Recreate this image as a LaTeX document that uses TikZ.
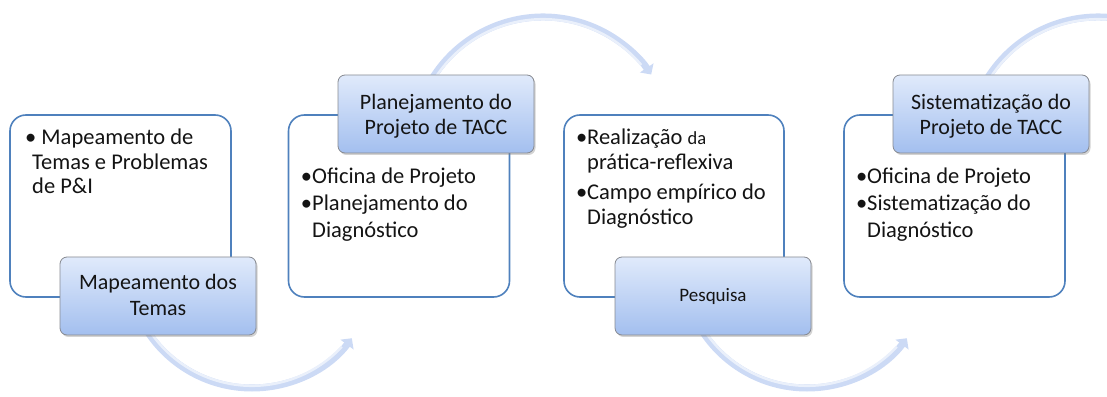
\documentclass[tikz,border=0pt]{standalone}
\usepackage{fontspec}
\setmainfont{Carlito}
\usetikzlibrary{arrows.meta,shadows}
\definecolor{boxblue}{RGB}{79,129,189}
\definecolor{txt}{RGB}{20,20,20}
\definecolor{tagtop}{RGB}{224,234,251}
\definecolor{tagbot}{RGB}{163,191,239}
\definecolor{tagedge}{RGB}{135,138,145}
\definecolor{band}{RGB}{204,218,245}
\definecolor{bandlight}{RGB}{234,240,251}
\tikzset{
  bigbox/.style={draw=boxblue, line width=1.6pt, fill=white, rounded corners=16pt,
    minimum width=221pt, minimum height=182pt, inner sep=0pt},
  tagbox/.style={draw=tagedge, line width=0.8pt, rounded corners=7pt, top color=tagtop, bottom color=tagbot,
    minimum width=196pt, minimum height=78pt, inner sep=0pt,
    drop shadow={opacity=0.35, shadow xshift=1.5pt, shadow yshift=-2pt}},
  flowarc/.style={draw=band, line width=7pt, -{Triangle[width=16pt,length=8pt]}},
  flowarcplain/.style={draw=band, line width=7pt},
  flowshine/.style={draw=bandlight, line width=2.5pt},
  bodytext/.style={text=txt, inner sep=0pt, anchor=base west, font=\fontsize{22.5}{27}\selectfont},
  tagtext/.style={text=txt, inner sep=0pt, anchor=base, font=\fontsize{22}{26}\selectfont},
  smalltag/.style={text=txt, inner sep=0pt, anchor=base, font=\fontsize{19}{23}\selectfont},
}
\begin{document}
\begin{tikzpicture}[x=1pt,y=1pt]
\useasboundingbox (0,0) rectangle (1107,396);
% connectors (arcs)
\begin{scope}
\clip (0,0) rectangle (1107,396);
\coordinate (cA) at (252,133);
\coordinate (cB) at (543,248.5);
\coordinate (cC) at (807,133);
\coordinate (cD) at (1098,248.5);
\draw[flowarc] (cA) ++(210:125) arc[start angle=210, end angle=323, radius=125];
\draw[flowshine] (cA) ++(212:122.8) arc[start angle=212, end angle=317, radius=122.8];
\draw[flowarc] (cB) ++(150:130.5) arc[start angle=150, end angle=34, radius=130.5];
\draw[flowshine] (cB) ++(148:128.3) arc[start angle=148, end angle=40, radius=128.3];
\draw[flowarc] (cC) ++(210:125) arc[start angle=210, end angle=323, radius=125];
\draw[flowshine] (cC) ++(212:122.8) arc[start angle=212, end angle=317, radius=122.8];
\draw[flowarcplain] (cD) ++(150:130.5) arc[start angle=150, end angle=60, radius=130.5];
\draw[flowshine] (cD) ++(148:128.3) arc[start angle=148, end angle=60, radius=128.3];
\end{scope}
% big boxes
\node[bigbox] (b1) at (120.5,190) {};
\node[bigbox] (b2) at (399,190) {};
\node[bigbox, minimum width=220pt] (b3) at (674,190) {};
\node[bigbox] (b4) at (954.5,190) {};
% box texts
\node[bodytext] (t1a) at (25,251) {•\ Mapeamento de};
\node[bodytext] (t1b) at (32,226.5) {Temas e Problemas};
\node[bodytext] (t1c) at (32,202) {de P\&I};
\node[bodytext] (t2a) at (312,212) {\llap{•}Oficina de Projeto};
\node[bodytext] (t2b) at (312,185) {\llap{•}Planejamento do};
\node[bodytext] (t2c) at (312,158) {Diagnóstico};
\node[bodytext] (t3a) at (587,251) {\llap{•}Realização {\fontsize{18.5}{22}\selectfont da}};
\node[bodytext] (t3b) at (587,226) {prática-reflexiva};
\node[bodytext] (t3c) at (587,196) {\llap{•}Campo empírico do};
\node[bodytext] (t3d) at (587,171) {Diagnóstico};
\node[bodytext] (t4a) at (867,212) {\llap{•}Oficina de Projeto};
\node[bodytext] (t4b) at (867,185) {\llap{•}Sistematização do};
\node[bodytext] (t4c) at (867,158) {Diagnóstico};
% tag boxes
\node[tagbox] (s1) at (158,100) {};
\node[tagbox] (s2) at (436,282) {};
\node[tagbox] (s3) at (713,100) {};
\node[tagbox] (s4) at (991,282) {};
\node[tagtext] (s1a) at (158,106) {Mapeamento dos};
\node[tagtext] (s1b) at (158,81) {Temas};
\node[tagtext] (s2a) at (436,286) {Planejamento do};
\node[tagtext] (s2b) at (436,261) {Projeto de TACC};
\node[smalltag] (s3a) at (713,94) {Pesquisa};
\node[tagtext] (s4a) at (991,286) {Sistematização do};
\node[tagtext] (s4b) at (991,261) {Projeto de TACC};
\end{tikzpicture}
\end{document}
